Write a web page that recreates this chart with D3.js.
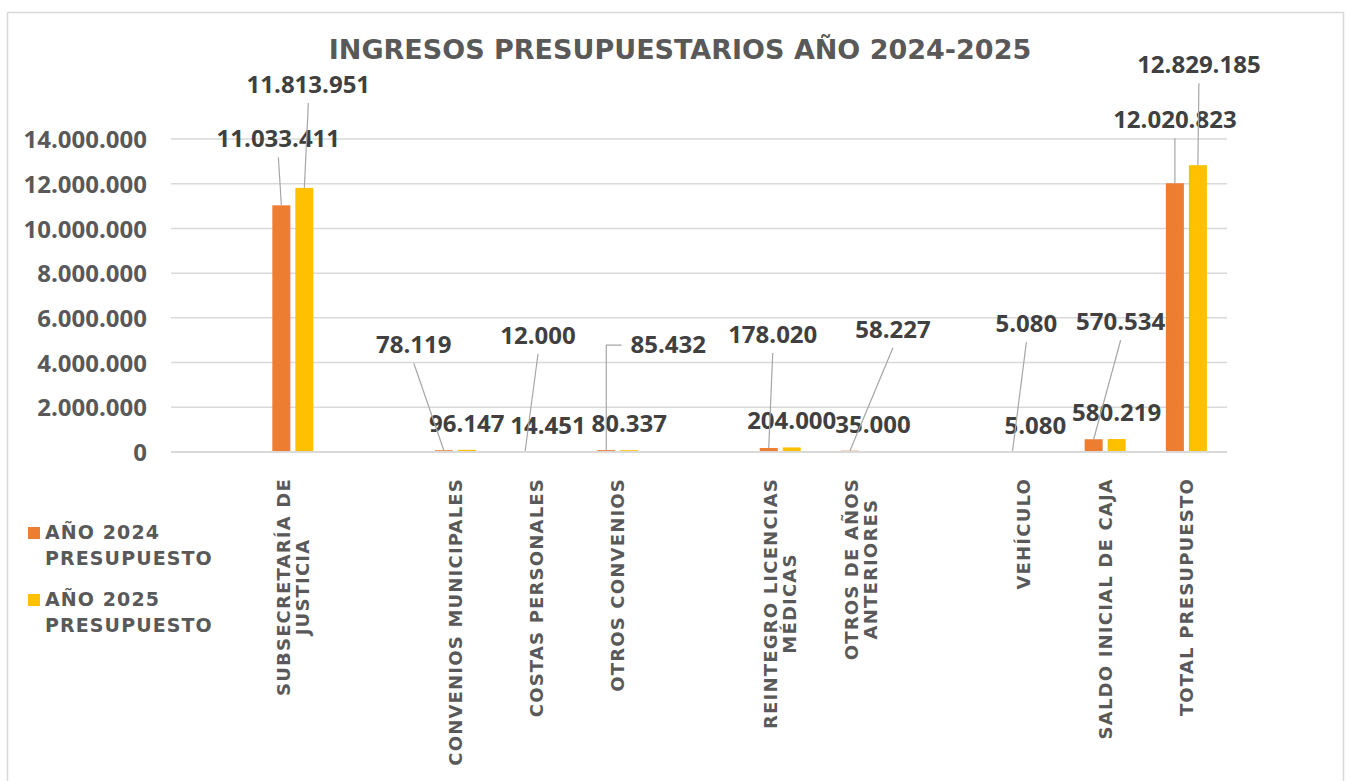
<!DOCTYPE html>
<html>
<head>
<meta charset="utf-8">
<script src="https://cdn.jsdelivr.net/npm/d3@7"></script>
<style>
  body { margin: 0; background: #fff; }
  .title { font-family: "DejaVu Sans", sans-serif; font-weight: bold; font-size: 27px; fill: #595959; }
  .tick-label { font-family: "Open Sans", sans-serif; font-weight: bold; font-size: 24px; fill: #595959; }
  .value-label { font-family: "Open Sans", sans-serif; font-weight: bold; font-size: 24px; fill: #404040; }
  .cat-label { font-family: "DejaVu Sans", sans-serif; font-weight: bold; font-size: 18px; letter-spacing: 1.2px; fill: #595959; }
  .legend-label { font-family: "DejaVu Sans", sans-serif; font-weight: bold; font-size: 19px; letter-spacing: 1.1px; fill: #595959; }
</style>
</head>
<body>
<svg id="chart" width="1353" height="781"></svg>
<script>
// categories (blank ones are empty slots on the axis)
const categories = [
  '',
  'SUBSECRETARÍA DE\nJUSTICIA',
  '',
  'CONVENIOS MUNICIPALES',
  'COSTAS PERSONALES',
  'OTROS CONVENIOS',
  '',
  'REINTEGRO LICENCIAS\nMÉDICAS',
  'OTROS DE AÑOS\nANTERIORES',
  '',
  'VEHÍCULO',
  'SALDO INICIAL DE CAJA',
  'TOTAL PRESUPUESTO'
];
const values2024 = [null, 11033411, null, 78119, 12000, 85432, null, 178020, 58227, null, 5080, 570534, 12020823];
const values2025 = [null, 11813951, null, 96147, 14451, 80337, null, 204000, 35000, null, 5080, 580219, 12829185];
const seriesNames = [['AÑO 2024', 'PRESUPUESTO'], ['AÑO 2025', 'PRESUPUESTO']];
const yTicks = [0, 2000000, 4000000, 6000000, 8000000, 10000000, 12000000, 14000000];
const chartTitle = 'INGRESOS PRESUPUESTARIOS AÑO 2024-2025';

// hand-placed data labels: [dx, dy] in px from bar top, null = default spot above bar
const nudge2024 = [null, [-3, -58], null, [-30, -97], [13, -108], [62, -97, 'elbow'], null, [4, -105], [43, -113], null, [14, -120], [27, -109], [0, -55]];
const nudge2025 = [null, [4, -95], null, null, null, null, null, null, null, null, null, null, [1, -92]];

const colours = ['#ED7D31', '#FFC000'];

const svg = d3.select('#chart');
const width = 1353, height = 781;
const margin = { top: 139, right: 126, bottom: 329, left: 171 };
const innerW = width - margin.left - margin.right;
const innerH = height - margin.top - margin.bottom;

const es = d3.formatLocale({ decimal: ',', thousands: '.', grouping: [3], currency: ['$', ''] });
const fmt = es.format(',.0f');

// outer border of the chart area
svg.append('rect')
  .attr('x', 7.5).attr('y', 12.5)
  .attr('width', 1336).attr('height', 800)
  .attr('fill', 'none')
  .attr('stroke', '#d9d9d9')
  .attr('stroke-width', 1.5);

svg.append('text')
  .attr('class', 'title')
  .attr('x', 680).attr('y', 59)
  .attr('text-anchor', 'middle')
  .text(chartTitle);

const x = d3.scaleBand()
  .domain(d3.range(categories.length))
  .range([margin.left, margin.left + innerW])
  .paddingInner(0.495)
  .paddingOuter(0.2475);

const x1 = d3.scaleBand()
  .domain([0, 1])
  .range([0, x.bandwidth()])
  .paddingInner(0.217);

const y = d3.scaleLinear()
  .domain([0, 14000000])
  .range([margin.top + innerH, margin.top]);

// gridlines
svg.append('g')
  .selectAll('line')
  .data(yTicks)
  .join('line')
  .attr('x1', margin.left).attr('x2', margin.left + innerW)
  .attr('y1', d => y(d)).attr('y2', d => y(d))
  .attr('stroke', '#d9d9d9')
  .attr('stroke-width', 1.5);

// y axis labels
const yAxis = svg.append('g')
  .attr('transform', `translate(${margin.left},0)`)
  .call(d3.axisLeft(y).tickValues(yTicks).tickFormat(fmt).tickSize(0).tickPadding(24));
yAxis.select('.domain').remove();
yAxis.selectAll('text')
  .attr('class', 'tick-label')
  .attr('font-family', null).attr('font-size', null)
  .attr('fill', null)
  .attr('dy', '0.36em');

// bars
const series = [values2024, values2025];
const barData = [];
series.forEach((vals, s) => {
  vals.forEach((v, i) => {
    if (v == null) return;
    barData.push({ i, s, v, nudge: (s === 0 ? nudge2024 : nudge2025)[i] });
  });
});

svg.append('g')
  .selectAll('rect')
  .data(barData)
  .join('rect')
  .attr('x', d => x(d.i) + x1(d.s))
  .attr('y', d => y(d.v))
  .attr('width', x1.bandwidth())
  .attr('height', d => y(0) - y(d.v))
  .attr('fill', d => colours[d.s]);

// data labels + leader lines
const labelG = svg.append('g');
const leaderG = svg.append('g');
barData.forEach(d => {
  const bx = x(d.i) + x1(d.s) + x1.bandwidth() / 2;
  const by = y(d.v);
  const dx = d.nudge ? d.nudge[0] : 0;
  const dy = d.nudge ? d.nudge[1] : -18;
  const lx = bx + dx, ly = by + dy;
  const t = labelG.append('text')
    .attr('class', 'value-label')
    .attr('x', lx).attr('y', ly)
    .attr('text-anchor', 'middle')
    .text(fmt(d.v));
  if (!d.nudge) return;
  if (d.nudge[2] === 'elbow') {
    const w = t.node().getComputedTextLength();
    const sx = lx - w / 2 - 9, sy = ly - 8;
    leaderG.append('path')
      .attr('d', `M${sx},${sy}H${bx}V${by}`)
      .attr('fill', 'none').attr('stroke', '#a6a6a6').attr('stroke-width', 1.2);
  } else {
    leaderG.append('line')
      .attr('x1', lx).attr('y1', ly + 10)
      .attr('x2', bx).attr('y2', by)
      .attr('stroke', '#a6a6a6').attr('stroke-width', 1.2);
  }
});

// baseline
svg.append('line')
  .attr('x1', margin.left).attr('x2', margin.left + innerW)
  .attr('y1', y(0)).attr('y2', y(0))
  .attr('stroke', '#d9d9d9').attr('stroke-width', 2);

// category labels, rotated
const catG = svg.append('g');
categories.forEach((c, i) => {
  if (!c) return;
  const lines = c.split('\n');
  const cx = x(i) + x.bandwidth() / 2;
  const g = catG.append('g')
    .attr('transform', `translate(${cx},478) rotate(-90)`);
  const lineH = 19;
  // block is right-aligned to axis, lines centred inside it
  const texts = lines.map((ln, k) => g.append('text')
    .attr('class', 'cat-label')
    .attr('y', 6.5 + (k - (lines.length - 1) / 2) * lineH)
    .text(ln));
  const widths = texts.map(t => t.node().getComputedTextLength());
  const maxW = d3.max(widths);
  texts.forEach((t, k) => {
    t.attr('x', -maxW / 2 - widths[k] / 2);
  });
});

// legend
const legend = svg.append('g');
seriesNames.forEach((name, s) => {
  const top = 527 + s * 67;
  legend.append('rect')
    .attr('x', 28).attr('y', top)
    .attr('width', 12).attr('height', 12)
    .attr('fill', colours[s]);
  name.forEach((ln, k) => {
    legend.append('text')
      .attr('class', 'legend-label')
      .attr('x', 45).attr('y', top + 12 + k * 26)
      .text(ln);
  });
});
</script>
</body>
</html>
